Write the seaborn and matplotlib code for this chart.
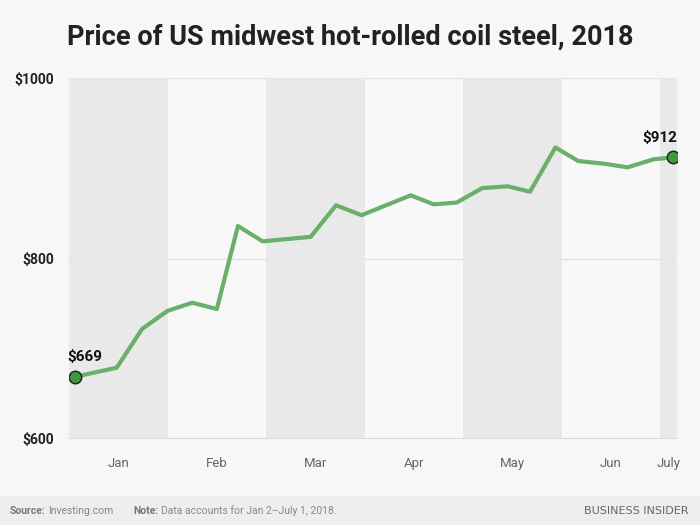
import calendar
import numpy as np
import pandas as pd
import matplotlib
matplotlib.use("Agg")
import matplotlib.pyplot as plt
import seaborn as sns

# ---- data ----
dates = ["2018-01-02", "2018-01-15", "2018-01-23", "2018-01-31", "2018-02-07",
         "2018-02-14", "2018-02-20", "2018-02-27", "2018-03-14", "2018-03-22",
         "2018-03-30", "2018-04-14", "2018-04-21", "2018-04-28", "2018-05-06",
         "2018-05-14", "2018-05-21", "2018-05-29", "2018-06-05", "2018-06-13",
         "2018-06-20", "2018-06-28", "2018-07-04"]
prices = [669, 679, 722, 742, 751, 744, 836, 819, 824, 859, 848, 870, 860,
          862, 878, 880, 874, 923, 908, 905, 901, 910, 912]
months = ["Jan", "Feb", "Mar", "Apr", "May", "Jun", "July"]
y_ticks = [600, 800, 1000]
title = "Price of US midwest hot-rolled coil steel, 2018"

sns.set_theme(style="white")
plt.rcParams['font.family'] = ['Roboto', 'DejaVu Sans']

dt = pd.to_datetime(dates)
# each month occupies one unit on the x axis
pos = [(d.month - 1) + d.day / calendar.monthrange(d.year, d.month)[1] for d in dt]
df = pd.DataFrame({"pos": pos, "price": prices})

BG = "#f7f7f7"
fig = plt.figure(figsize=(7, 5.25), dpi=100, facecolor=BG)
ax = fig.add_axes([69/700, 1-439/525, (677-69)/700, (439-78)/525])
ax.set_facecolor(BG)

x_end = df["pos"].iloc[-1] + 0.04
for i, m in enumerate(months):
    col = "#e9e9e9" if i % 2 == 0 else "#f8f8f8"
    ax.axvspan(i, min(i + 1, x_end), color=col, lw=0, zorder=0)

for yv in y_ticks[1:]:
    ax.axhline(yv, color="#e4e4e4", lw=1, zorder=1)
ax.axhline(y_ticks[0], color="#d9d9d9", lw=1.5, zorder=1)

sns.lineplot(data=df, x="pos", y="price", ax=ax, color="#6aaf6a", lw=3,
             zorder=3)
ends = df.iloc[[0, -1]]
ax.scatter(ends["pos"], ends["price"], s=80, color="#3f9a3f",
           edgecolor="#1d2a1d", lw=1.1, zorder=4)
ax.annotate(f"${prices[0]}", (df["pos"].iloc[0], prices[0]),
            xytext=(-6, 9), textcoords="offset points", ha="left", va="bottom",
            fontsize=11, fontweight="bold", color="#111111")
ax.annotate(f"${prices[-1]}", (df["pos"].iloc[-1], prices[-1]),
            xytext=(3, 9), textcoords="offset points", ha="right", va="bottom",
            fontsize=11, fontweight="bold", color="#111111")

ax.set_xlim(0, x_end)
ax.set_ylim(600, 1000)
ax.set_yticks(y_ticks)
ax.set_yticklabels([f"${v}" for v in y_ticks], fontsize=10, fontweight="bold",
                   color="#222222")
centers = [i + 0.5 for i in range(6)] + [(6 + x_end) / 2]
ax.set_xticks(centers)
ax.set_xticklabels(months, fontsize=9.5, color="#666666")
ax.tick_params(axis="both", length=0)
ax.tick_params(axis="x", pad=13)
ax.tick_params(axis="y", pad=11)
ax.set_xlabel("")
ax.set_ylabel("")
for s in ax.spines.values():
    s.set_visible(False)

fig.text(0.5, 1-37/525, title, ha="center", va="center", fontsize=19.5,
         fontweight="bold", color="#222222")

# footer
fig.patches.append(matplotlib.patches.Rectangle((0, 0), 1, 29/525,
                   transform=fig.transFigure, color="#efeeef", zorder=0))
fig.text(10/700, 14/525, "Source:", fontsize=7.5, fontweight="bold",
         color="#777777", va="center")
fig.text(48/700, 14/525, "Investing.com", fontsize=7.5, color="#888888", va="center")
fig.text(133/700, 14/525, "Note:", fontsize=7.5, fontweight="bold",
         color="#777777", va="center")
fig.text(161/700, 14/525, "Data accounts for Jan 2\u2013July 1, 2018.",
         fontsize=7.5, color="#888888", va="center")
fig.text(689/700, 14/525, "BUSINESS INSIDER", fontsize=8, color="#666666",
         va="center", ha="right", family=["DejaVu Sans"])

fig.savefig("out.png", dpi=100, facecolor=BG)
